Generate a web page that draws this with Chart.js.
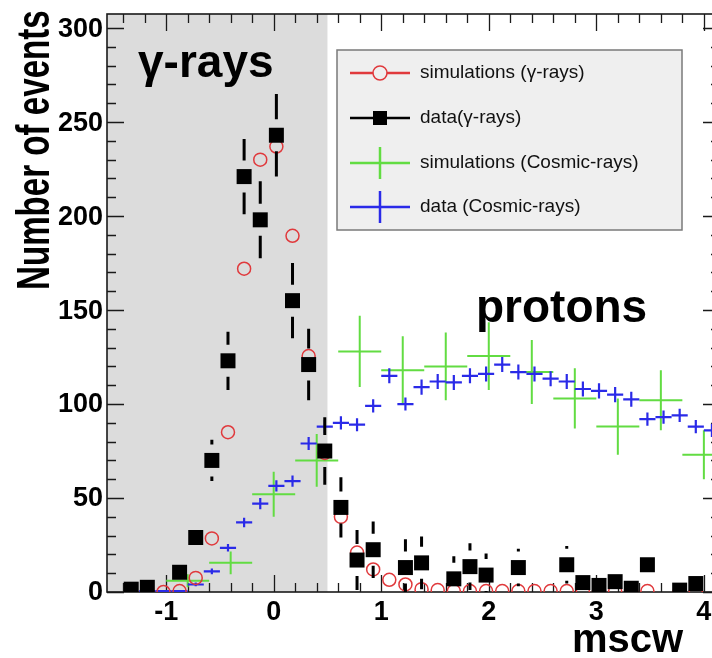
<!DOCTYPE html>
<html>
<head>
<meta charset="utf-8">
<script src="https://cdn.jsdelivr.net/npm/chart.js@4/dist/chart.umd.min.js"></script>
<style>
  html, body { margin: 0; padding: 0; background: #ffffff; overflow: hidden; }
  #wrap { width: 712px; height: 658px; overflow: hidden; }
  canvas { display: block; }
</style>
</head>
<body>
<div id="wrap"><canvas id="c" width="720" height="658"></canvas></div>
<script>
// Fine binning (width 0.15) used for the gamma histograms and cosmic-ray data
const binCentres = [-1.325, -1.175, -1.025, -0.875, -0.725, -0.575, -0.425, -0.275, -0.125, 0.025,
  0.175, 0.325, 0.475, 0.625, 0.775, 0.925, 1.075, 1.225, 1.375, 1.525,
  1.675, 1.825, 1.975, 2.125, 2.275, 2.425, 2.575, 2.725, 2.875, 3.025,
  3.175, 3.325, 3.475, 3.625, 3.775, 3.925, 4.075];

// simulations (gamma-rays)
const simGamma = [0, 0, 0, 0.5, 7.5, 28.5, 85, 172, 230, 237,
  189.5, 125.5, 74, 40, 21, 12, 6.5, 4, 1.5, 1,
  0.5, 0.5, 0.5, 0.5, 0.5, 0.5, 0.5, 0.5, 0.5, 0.5,
  0.5, 0.5, 0.5, null, 0.5, 0.5, null];

// data (gamma-rays) and its uncertainties
const dataGamma = [1.5, 2.5, null, 10.5, 29, 70, 123, 221, 198, 243,
  155, 121, 75, 45, 17, 22.5, null, 13, 15.5, null,
  7, 13.5, 9, null, 13, null, null, 14.5, 5, 3.5,
  5.5, 2, 14.5, null, 1, 4.5, null];
const dataGammaErr = [1.5, 2, null, 3.5, 4, 11, 15.5, 20, 20.5, 22,
  20, 19, 18, 16, 16, 15, null, 15, 14, null,
  12, 12.5, 11.5, null, 10, null, null, 10, 8, 8,
  7, 7, 5, null, 5, 5, null];

// data (cosmic-rays) and its uncertainties
const dataCosmic = [null, 0.5, 0.5, 0.5, 4, 11, 23.5, 37, 47, 56.5,
  59, 79, 88, 90, 89, 99, 115, 100, 109, 112,
  111.5, 115, 116, 121, 117, 116, 113.5, 112, 108, 107,
  105, 102.5, 92, 93, 94, 88, 86];
const dataCosmicErr = [null, 0.5, 0.5, 0.5, 1, 1.5, 2, 2.5, 3, 3,
  3, 3.5, 3.5, 3.5, 3.5, 3.5, 4, 3.5, 4, 4,
  4, 4, 4, 4, 4, 4, 4, 4, 4, 4,
  4, 4, 3.5, 3.5, 3.5, 3.5, 3.5];

// Coarse binning (width 0.4) for the cosmic-ray simulations
const simBins = [-0.8, -0.4, 0, 0.4, 0.8, 1.2, 1.6, 2.0, 2.4, 2.8, 3.2, 3.6, 4.0];
const simCosmic = [6, 15.5, 52, 70, 128, 118, 120, 125.5, 117, 103, 88, 102, 73];
const simCosmicErr = [3.5, 6, 12, 14, 19, 18, 18, 18, 17, 16, 15, 16, 13];

const xTickLabels = [-1, 0, 1, 2, 3, 4];
const yTickLabels = [0, 50, 100, 150, 200, 250, 300];
const gammaRegion = [-1.55, 0.5];
const seriesNames = ['simulations (\u03b3-rays)', 'data(\u03b3-rays)', 'simulations (Cosmic-rays)', 'data (Cosmic-rays)'];

const FONT = "'Liberation Sans', Arial, Helvetica, sans-serif";
const RED = '#e0393c', BLACK = '#000000', GREEN = '#62dc42', BLUE = '#2a2ae8';

function points(xs, ys, es) {
  const out = [];
  xs.forEach((x, i) => {
    if (ys[i] === null) return;
    out.push({ x: x, y: ys[i], e: es ? es[i] : 0 });
  });
  return out;
}

// shaded selection window, frame, inward ticks on all four sides and tick labels
const framePlugin = {
  id: 'frame',
  beforeDatasetsDraw(chart) {
    const { ctx, chartArea: a, scales: { x, y } } = chart;
    ctx.save();
    const xs = x.getPixelForValue(gammaRegion[1]);
    ctx.fillStyle = '#dcdcdc';
    ctx.fillRect(a.left, a.top, xs - a.left, a.bottom - a.top);

    ctx.strokeStyle = '#1a1a1a';
    ctx.lineWidth = 1.3;
    ctx.beginPath();
    for (let k = -7; k <= 20; k++) {
      const px = Math.round(x.getPixelForValue(k * 0.2)) + 0.5;
      const len = (k % 5 === 0) ? 17 : 9;
      ctx.moveTo(px, a.bottom); ctx.lineTo(px, a.bottom - len);
      ctx.moveTo(px, a.top); ctx.lineTo(px, a.top + len);
    }
    for (let k = 0; k <= 30; k++) {
      const py = Math.round(y.getPixelForValue(k * 10)) + 0.5;
      const len = (k % 5 === 0) ? 17 : 9;
      ctx.moveTo(a.left, py); ctx.lineTo(a.left + len, py);
      ctx.moveTo(a.right, py); ctx.lineTo(a.right - len, py);
    }
    ctx.stroke();
    ctx.lineWidth = 1.6;
    ctx.strokeRect(a.left, a.top, a.right - a.left, a.bottom - a.top);

    ctx.fillStyle = '#000';
    ctx.font = 'bold 27px ' + FONT;
    ctx.textAlign = 'center';
    ctx.textBaseline = 'alphabetic';
    xTickLabels.forEach(v => ctx.fillText(String(v), x.getPixelForValue(v), a.bottom + 28));
    ctx.textAlign = 'right';
    ctx.textBaseline = 'middle';
    yTickLabels.forEach(v => ctx.fillText(String(v), a.left - 4, y.getPixelForValue(v) + 1));
    ctx.restore();
  }
};

// error bars: gapped vertical bars for the gamma data, full crosses for cosmic rays
const errorBarPlugin = {
  id: 'errorBars',
  afterDatasetDraw(chart, args) {
    const ds = chart.data.datasets[args.index];
    if (!ds.bars) return;
    const { ctx, chartArea: a, scales: { x, y } } = chart;
    ctx.save();
    ctx.beginPath();
    ctx.rect(a.left, a.top, a.right - a.left, a.bottom - a.top);
    ctx.clip();
    ctx.strokeStyle = ds.bars.color;
    ctx.lineWidth = ds.bars.width;
    ctx.lineCap = 'butt';
    ds.data.forEach(p => {
      const px = x.getPixelForValue(p.x);
      const py = y.getPixelForValue(p.y);
      const top = y.getPixelForValue(p.y + p.e);
      const bot = y.getPixelForValue(p.y - p.e);
      ctx.beginPath();
      if (ds.bars.gap) {
        const g = ds.bars.gap;
        if (top < py - g) { ctx.moveTo(px, top); ctx.lineTo(px, py - g); }
        if (bot > py + g) { ctx.moveTo(px, py + g); ctx.lineTo(px, bot); }
      } else {
        ctx.moveTo(px, top); ctx.lineTo(px, bot);
        ctx.moveTo(x.getPixelForValue(p.x - ds.bars.half), py);
        ctx.lineTo(x.getPixelForValue(p.x + ds.bars.half), py);
      }
      ctx.stroke();
    });
    ctx.restore();
  }
};

// titles, in-plot labels and the legend box
const textPlugin = {
  id: 'texts',
  afterDraw(chart) {
    const ctx = chart.ctx;
    ctx.save();
    ctx.fillStyle = '#000';
    ctx.textBaseline = 'alphabetic';
    ctx.textAlign = 'left';
    ctx.font = 'bold 46px ' + FONT;
    ctx.fillText('\u03b3-rays', 138, 77);
    ctx.fillText('protons', 476, 322);
    ctx.font = 'bold 40px ' + FONT;
    ctx.fillText('mscw', 572, 652);

    ctx.save();
    ctx.translate(49, 290);
    ctx.rotate(-Math.PI / 2);
    ctx.scale(0.72, 1);
    ctx.font = 'bold 46px ' + FONT;
    ctx.fillText('Number of events', 0, 0);
    ctx.restore();

    // legend
    const bx = 337, by = 50, bw = 345, bh = 180;
    ctx.fillStyle = '#efefef';
    ctx.fillRect(bx, by, bw, bh);
    ctx.strokeStyle = '#7a7a7a';
    ctx.lineWidth = 1.5;
    ctx.strokeRect(bx, by, bw, bh);
    const rows = [73, 118, 163, 207];
    chart.data.datasets.forEach((ds, i) => {
      const ry = rows[i];
      ctx.strokeStyle = ds.legendColor;
      ctx.lineWidth = 2.5;
      ctx.beginPath();
      ctx.moveTo(350, ry); ctx.lineTo(410, ry);
      ctx.stroke();
      if (ds.sample === 'circle') {
        ctx.fillStyle = '#efefef';
        ctx.lineWidth = 1.5;
        ctx.beginPath(); ctx.arc(380, ry, 7, 0, Math.PI * 2); ctx.fill(); ctx.stroke();
      } else if (ds.sample === 'square') {
        ctx.fillStyle = '#000';
        ctx.fillRect(373, ry - 7, 14, 14);
      } else {
        ctx.lineWidth = 2.5;
        ctx.beginPath(); ctx.moveTo(380, ry - 16); ctx.lineTo(380, ry + 16); ctx.stroke();
      }
      ctx.fillStyle = '#111';
      ctx.font = '19px ' + FONT;
      ctx.textBaseline = 'middle';
      ctx.fillText(ds.label, 420, ry);
    });
    ctx.restore();
  }
};

new Chart(document.getElementById('c'), {
  type: 'scatter',
  data: {
    datasets: [
      {
        label: seriesNames[0], order: 1, sample: 'circle', legendColor: RED,
        data: points(binCentres, simGamma),
        pointStyle: 'circle', pointRadius: 6.5, pointBorderWidth: 1.5,
        pointBorderColor: RED, pointBackgroundColor: 'rgba(0,0,0,0)', showLine: false
      },
      {
        label: seriesNames[1], order: 0, sample: 'square', legendColor: BLACK,
        data: points(binCentres, dataGamma, dataGammaErr),
        pointStyle: 'rect', pointRadius: 10.6, pointBorderWidth: 0,
        pointBackgroundColor: BLACK, pointBorderColor: BLACK, showLine: false,
        bars: { color: BLACK, width: 3, gap: 16 }
      },
      {
        label: seriesNames[2], order: 3, sample: 'cross', legendColor: GREEN,
        data: points(simBins, simCosmic, simCosmicErr),
        pointRadius: 0, showLine: false,
        bars: { color: GREEN, width: 2, half: 0.2 }
      },
      {
        label: seriesNames[3], order: 2, sample: 'cross', legendColor: BLUE,
        data: points(binCentres, dataCosmic, dataCosmicErr),
        pointRadius: 0, showLine: false,
        bars: { color: BLUE, width: 2.2, half: 0.075 }
      }
    ]
  },
  options: {
    responsive: false,
    animation: false,
    devicePixelRatio: 1,
    layout: { autoPadding: false, padding: { left: 0, top: 14, right: 0, bottom: 0 } },
    plugins: { legend: { display: false }, tooltip: { enabled: false } },
    scales: {
      x: {
        type: 'linear', min: -1.55, max: 4.15,
        afterBuildTicks: s => { s.ticks = xTickLabels.map(v => ({ value: v })); },
        afterFit: s => { s.height = 66; },
        ticks: { display: false },
        grid: { display: false, drawTicks: false },
        border: { display: false }
      },
      y: {
        type: 'linear', min: 0, max: 307.5,
        afterBuildTicks: s => { s.ticks = yTickLabels.map(v => ({ value: v })); },
        afterFit: s => { s.width = 107; },
        ticks: { display: false },
        grid: { display: false, drawTicks: false },
        border: { display: false }
      }
    }
  },
  plugins: [framePlugin, errorBarPlugin, textPlugin]
});
</script>
</body>
</html>
